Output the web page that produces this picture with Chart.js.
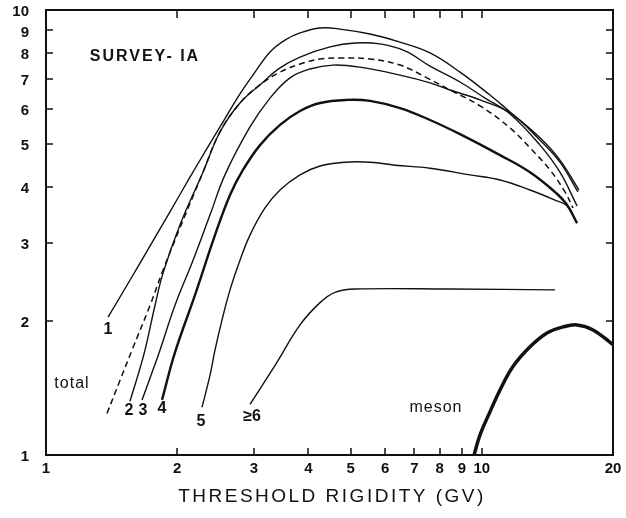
<!DOCTYPE html>
<html>
<head>
<meta charset="utf-8">
<script src="https://cdn.jsdelivr.net/npm/chart.js@4"></script>
<style>
  html, body { margin: 0; padding: 0; background: #fff; }
  canvas { display: block; }
</style>
</head>
<body>
<canvas id="chart" width="626" height="518"></canvas>
<script>
// multiplicity curves: threshold rigidity (GV) vs relative rate
const m1X = [1.388, 1.558, 1.733, 1.925, 2.140, 2.316, 2.507, 2.787, 3.017, 3.266, 3.534, 3.827, 4.254, 4.727, 5.540, 6.492, 7.606, 8.912, 10.44, 11.61, 13.60, 15.11, 16.71];
const m1Y = [2.04, 2.47, 2.95, 3.52, 4.21, 4.80, 5.46, 6.48, 7.25, 8.05, 8.56, 8.88, 9.11, 9.06, 8.83, 8.47, 8.01, 7.25, 6.44, 5.90, 5.16, 4.60, 3.94];

const m2X = [1.558, 1.625, 1.687, 1.779, 1.855, 2.030, 2.292, 2.507, 2.787, 3.098, 3.443, 3.827, 4.485, 5.117, 5.840, 6.666, 7.606, 8.912, 10.17, 11.61, 13.60, 15.11, 16.54];
const m2Y = [1.32, 1.51, 1.72, 2.17, 2.56, 3.29, 4.32, 5.32, 6.18, 6.79, 7.41, 7.84, 8.26, 8.43, 8.39, 8.09, 7.48, 6.89, 6.34, 5.84, 4.97, 4.32, 3.63];

const m3X = [1.661, 1.733, 1.826, 1.977, 2.175, 2.378, 2.574, 2.938, 3.266, 3.630, 4.035, 4.556, 5.254, 6.492, 7.606, 8.453, 9.906, 11.61, 13.60, 15.11, 16.62];
const m3Y = [1.33, 1.49, 1.72, 2.17, 2.74, 3.46, 4.26, 5.46, 6.34, 7.04, 7.37, 7.52, 7.44, 7.14, 6.86, 6.61, 6.28, 5.87, 5.10, 4.55, 3.90];

const m4X = [1.846, 1.977, 2.198, 2.442, 2.644, 2.831, 3.098, 3.443, 3.827, 4.254, 4.906, 5.540, 6.492, 7.606, 8.912, 11.01, 12.90, 14.72, 15.68, 16.54];
const m4Y = [1.33, 1.70, 2.29, 3.12, 3.84, 4.37, 4.97, 5.52, 5.93, 6.18, 6.28, 6.25, 6.02, 5.66, 5.26, 4.72, 4.32, 3.90, 3.65, 3.32];

const m5X = [2.280, 2.378, 2.442, 2.534, 2.644, 2.787, 2.938, 3.181, 3.443, 3.827, 4.254, 4.854, 5.540, 6.322, 7.606, 9.395, 11.01, 12.90, 14.72, 15.68, 16.54];
const m5Y = [1.28, 1.51, 1.72, 2.01, 2.35, 2.74, 3.12, 3.59, 3.94, 4.26, 4.46, 4.55, 4.55, 4.48, 4.41, 4.26, 4.15, 3.94, 3.74, 3.63, 3.32];

const m6X = [2.938, 3.354, 3.827, 4.254, 4.604, 5.117, 8.453, 14.72];
const m6Y = [1.30, 1.59, 1.96, 2.20, 2.32, 2.36, 2.36, 2.35];

const totalX = [1.380, 1.478, 1.575, 1.733, 1.855, 2.030, 2.292, 2.507, 2.787, 3.098, 3.443, 3.827, 4.254, 4.727, 5.540, 6.492, 7.485, 8.453, 9.906, 11.61, 12.90, 14.34, 15.52, 16.19];
const totalY = [1.24, 1.47, 1.72, 2.17, 2.60, 3.24, 4.32, 5.32, 6.18, 6.79, 7.25, 7.56, 7.76, 7.80, 7.76, 7.52, 7.04, 6.61, 6.09, 5.43, 4.90, 4.37, 3.90, 3.59];

const mesonX = [9.60, 9.906, 10.44, 11.01, 11.79, 12.90, 14.11, 15.36, 16.54, 18.00, 20.0];
const mesonY = [1.00, 1.11, 1.25, 1.40, 1.58, 1.75, 1.88, 1.94, 1.96, 1.91, 1.77];

// axis ticks
const xTicks = [1, 2, 3, 4, 5, 6, 7, 8, 9, 10, 20];
const xTickLabels = ['1', '2', '3', '4', '5', '6', '7', '8', '9', '10', '20'];
const yTicks = [1, 2, 3, 4, 5, 6, 7, 8, 9, 10];
const yTickLabels = ['1', '2', '3', '4', '5', '6', '7', '8', '9', '10'];

function pts(xs, ys) {
  return xs.map((x, i) => ({ x: x, y: ys[i] }));
}

function curve(xs, ys, width, dash) {
  return {
    data: pts(xs, ys),
    borderColor: '#111',
    borderWidth: width,
    borderDash: dash || [],
    pointRadius: 0,
    fill: false,
    tension: 0.4
  };
}

// frame, ticks and lettering
const framePlugin = {
  id: 'framePlugin',
  afterDraw(chart) {
    const { ctx, chartArea: a } = chart;
    const sx = chart.scales.x, sy = chart.scales.y;
    ctx.save();
    ctx.strokeStyle = '#111';
    ctx.lineWidth = 2;
    ctx.strokeRect(a.left, a.top, a.right - a.left, a.bottom - a.top);

    ctx.lineWidth = 1.5;
    ctx.beginPath();
    xTicks.forEach(v => {
      if (v === 1 || v === 20) return;
      const px = Math.round(sx.getPixelForValue(v));
      ctx.moveTo(px, a.bottom); ctx.lineTo(px, a.bottom - 7);
      ctx.moveTo(px, a.top); ctx.lineTo(px, a.top + 8);
    });
    yTicks.forEach(v => {
      if (v === 1 || v === 10) return;
      const py = Math.round(sy.getPixelForValue(v));
      ctx.moveTo(a.left, py); ctx.lineTo(a.left + 7, py);
      ctx.moveTo(a.right, py); ctx.lineTo(a.right - 7, py);
    });
    ctx.stroke();

    ctx.fillStyle = '#111';
    ctx.font = 'bold 15px "Liberation Sans", Arial, sans-serif';
    ctx.textBaseline = 'middle';
    ctx.textAlign = 'right';
    yTicks.forEach((v, i) => {
      ctx.fillText(yTickLabels[i], a.left - 17, sy.getPixelForValue(v) + 2);
    });
    ctx.textAlign = 'center';
    xTicks.forEach((v, i) => {
      ctx.fillText(xTickLabels[i], sx.getPixelForValue(v), a.bottom + 14);
    });

    ctx.font = '19px "Liberation Sans", Arial, sans-serif';
    ctx.letterSpacing = '2.5px';
    ctx.fillText('THRESHOLD RIGIDITY (GV)', 332, 497);

    ctx.font = 'bold 16px "Liberation Sans", Arial, sans-serif';
    ctx.letterSpacing = '2px';
    ctx.fillText('SURVEY- IA', sx.getPixelForValue(1.687), sy.getPixelForValue(7.84));
    ctx.letterSpacing = '0px';

    // curve labels
    const bold = [['1', 1.388, 1.91], ['2', 1.550, 1.26], ['3', 1.670, 1.26],
                  ['4', 1.846, 1.27], ['5', 2.268, 1.19], ['\u22656', 2.969, 1.22]];
    ctx.font = 'bold 16px "Liberation Sans", Arial, sans-serif';
    bold.forEach(l => ctx.fillText(l[0], sx.getPixelForValue(l[1]), sy.getPixelForValue(l[2])));
    ctx.font = '16px "Liberation Sans", Arial, sans-serif';
    ctx.letterSpacing = '1px';
    ctx.fillText('total', sx.getPixelForValue(1.147), sy.getPixelForValue(1.45));
    ctx.fillText('meson', sx.getPixelForValue(7.85), sy.getPixelForValue(1.28));
    ctx.restore();
  }
};

new Chart(document.getElementById('chart'), {
  type: 'line',
  data: {
    datasets: [
      curve(m1X, m1Y, 1.4),
      curve(m2X, m2Y, 1.4),
      curve(m3X, m3Y, 1.4),
      curve(m4X, m4Y, 2.4),
      curve(m5X, m5Y, 1.4),
      curve(m6X, m6Y, 1.4),
      curve(totalX, totalY, 1.5, [6, 4]),
      curve(mesonX, mesonY, 3.5)
    ]
  },
  options: {
    responsive: false,
    animation: false,
    layout: { padding: { left: 46, right: 13, top: 10, bottom: 63 } },
    plugins: { legend: { display: false }, tooltip: { enabled: false } },
    scales: {
      x: { type: 'logarithmic', min: 1, max: 20, display: false },
      y: { type: 'logarithmic', min: 1, max: 10, display: false }
    }
  },
  plugins: [framePlugin]
});
</script>
</body>
</html>
